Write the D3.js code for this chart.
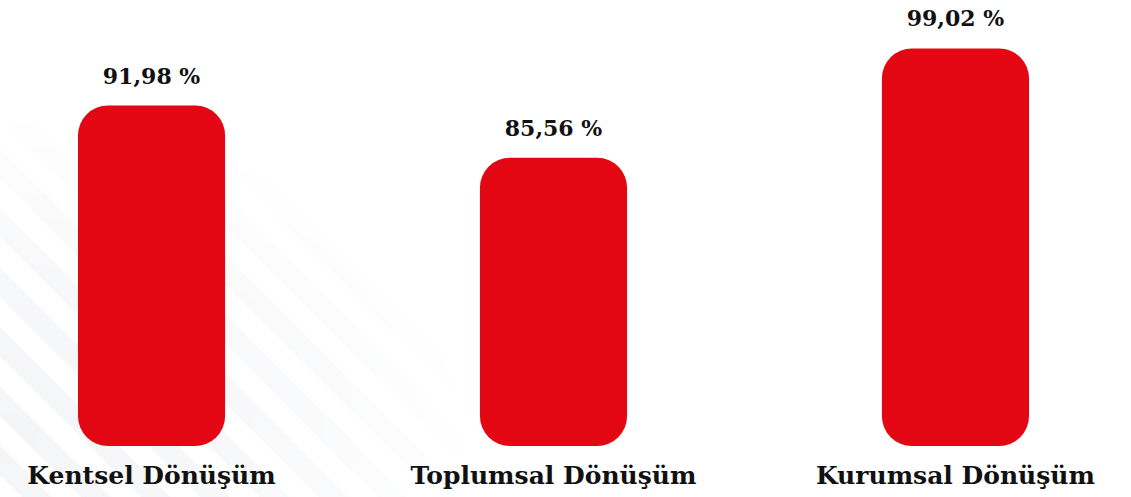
<!DOCTYPE html>
<html>
<head>
<meta charset="utf-8">
<script src="https://cdn.jsdelivr.net/npm/d3@7"></script>
<style>
  html, body { margin: 0; padding: 0; background: #ffffff; }
  svg { display: block; }
</style>
</head>
<body>
<svg id="chart" width="1131" height="497"></svg>
<script>
// ---- data ----
const categories = ["Kentsel Dönüşüm", "Toplumsal Dönüşüm", "Kurumsal Dönüşüm"];
const values = [91.98, 85.56, 99.02];
const valueLabels = ["91,98 %", "85,56 %", "99,02 %"];

// ---- layout ----
const W = 1131, H = 497;
const baseY = 446;
const svg = d3.select("#chart");
const FONT = "'DejaVu Serif', 'Liberation Serif', serif";

// faint diagonal stripes in the background (lower left)
const defs = svg.append("defs");
const pat = defs.append("pattern")
  .attr("id", "stripes").attr("patternUnits", "userSpaceOnUse")
  .attr("width", 42).attr("height", 42)
  .attr("patternTransform", "rotate(-45)");
pat.append("rect").attr("x", 0).attr("y", 0).attr("width", 21).attr("height", 42)
  .attr("fill", "#f4f5f7");
const grad = defs.append("radialGradient").attr("id", "fade")
  .attr("cx", 0.0).attr("cy", 0.85).attr("r", 0.85);
grad.append("stop").attr("offset", "0%").attr("stop-color", "#fff").attr("stop-opacity", 1);
grad.append("stop").attr("offset", "50%").attr("stop-color", "#fff").attr("stop-opacity", 0.7);
grad.append("stop").attr("offset", "100%").attr("stop-color", "#fff").attr("stop-opacity", 0);
defs.append("mask").attr("id", "fadeMask")
  .append("rect").attr("x", 0).attr("y", 110).attr("width", 560).attr("height", 387)
  .attr("fill", "url(#fade)");
svg.append("rect").attr("x", 0).attr("y", 110).attr("width", 560).attr("height", 387)
  .attr("fill", "url(#stripes)").attr("mask", "url(#fadeMask)");

// ---- scales ----
const x = d3.scaleBand()
  .domain(categories)
  .range([0, 1107])
  .paddingInner(0.634)
  .paddingOuter(0.194);

const y = d3.scaleLinear()
  .domain([50, 105])
  .range([baseY, 0]);

const data = categories.map((c, i) => ({ cat: c, value: values[i], label: valueLabels[i] }));
const r = 30;

// rounded bars
svg.append("g").selectAll("rect.bar")
  .data(data)
  .join("rect")
  .attr("class", "bar")
  .attr("x", d => x(d.cat))
  .attr("y", d => y(d.value))
  .attr("width", x.bandwidth())
  .attr("height", d => baseY - y(d.value))
  .attr("rx", r).attr("ry", r)
  .attr("fill", "#e30613");

// value labels
svg.append("g").selectAll("text.val")
  .data(data)
  .join("text")
  .attr("class", "val")
  .attr("x", d => x(d.cat) + x.bandwidth() / 2)
  .attr("y", d => y(d.value) - 22)
  .attr("text-anchor", "middle")
  .attr("font-family", FONT)
  .attr("font-weight", "bold")
  .attr("font-size", 22)
  .attr("fill", "#111111")
  .text(d => d.label);

// category labels (axis)
const axis = d3.axisBottom(x).tickSize(0).tickPadding(0);
const gAxis = svg.append("g")
  .attr("transform", `translate(0, ${baseY})`)
  .call(axis);
gAxis.select(".domain").remove();
gAxis.selectAll("text")
  .attr("y", 38)
  .attr("dy", 0)
  .attr("font-family", FONT)
  .attr("font-weight", "bold")
  .attr("font-size", 25)
  .attr("fill", "#111111");
</script>
</body>
</html>
